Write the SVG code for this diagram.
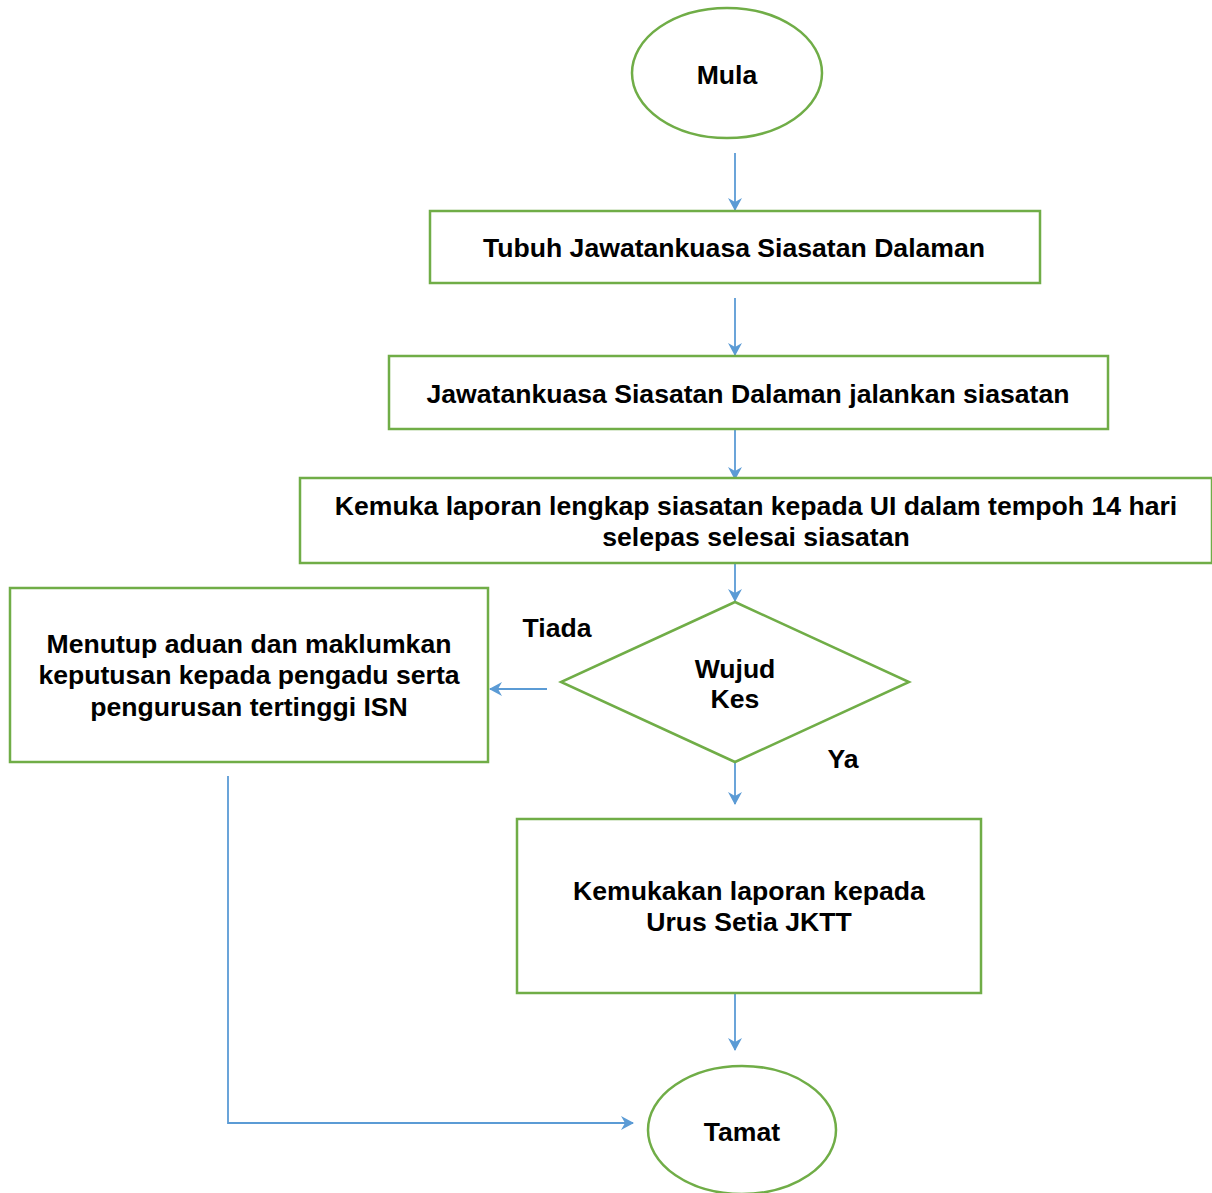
<svg xmlns="http://www.w3.org/2000/svg" width="1212" height="1193" viewBox="0 0 1212 1193">
<defs>
<marker id="ah" markerWidth="13" markerHeight="14" refX="12" refY="7" orient="auto" markerUnits="userSpaceOnUse" viewBox="0 0 13 14">
<path d="M0,0 L13,7 L0,14 L4,7 Z" fill="#5B9BD5"/>
</marker>
<style>
.n{fill:#fff;stroke:#70AD47;stroke-width:2.5}
.c{fill:none;stroke:#5B9BD5;stroke-width:1.8}
.a{marker-end:url(#ah)}
text{font-family:"Liberation Sans",Arial,sans-serif;font-weight:bold;font-size:26.6px;fill:#000;text-anchor:middle}
</style>
</defs>
<rect width="1212" height="1193" fill="#fff"/>
<g id="connectors">
<line class="c a" x1="735" y1="153" x2="735" y2="210"/>
<line class="c a" x1="735" y1="298" x2="735" y2="355"/>
<line class="c a" x1="735" y1="429" x2="735" y2="479"/>
<line class="c a" x1="735" y1="563" x2="735" y2="601"/>
<line class="c a" x1="547" y1="689" x2="490" y2="689"/>
<line class="c a" x1="735" y1="762" x2="735" y2="804"/>
<line class="c a" x1="735" y1="993" x2="735" y2="1050"/>
<polyline class="c a" points="228,776 228,1123 633,1123"/>
</g>
<g id="mula">
<ellipse class="n" cx="727" cy="73" rx="95" ry="65"/>
<text x="727" y="84">Mula</text>
</g>
<g id="tubuh">
<rect class="n" x="430" y="211" width="610" height="72"/>
<text x="734" y="257">Tubuh Jawatankuasa Siasatan Dalaman</text>
</g>
<g id="jalankan">
<rect class="n" x="389" y="356" width="719" height="73"/>
<text x="748" y="403">Jawatankuasa Siasatan Dalaman jalankan siasatan</text>
</g>
<g id="laporan">
<rect class="n" x="300" y="478" width="912" height="85"/>
<text x="756" y="515">Kemuka laporan lengkap siasatan kepada UI dalam tempoh 14 hari</text>
<text x="756" y="546">selepas selesai siasatan</text>
</g>
<g id="wujud">
<polygon class="n" points="735,602 909,682 735,762 561,682"/>
<text x="735" y="678">Wujud</text>
<text x="735" y="708">Kes</text>
</g>
<text x="557" y="637">Tiada</text>
<text x="843" y="768">Ya</text>
<g id="menutup">
<rect class="n" x="10" y="588" width="478" height="174"/>
<text x="249" y="653">Menutup aduan dan maklumkan</text>
<text x="249" y="684">keputusan kepada pengadu serta</text>
<text x="249" y="716">pengurusan tertinggi ISN</text>
</g>
<g id="kemukakan">
<rect class="n" x="517" y="819" width="464" height="174"/>
<text x="749" y="900">Kemukakan laporan kepada</text>
<text x="749" y="931">Urus Setia JKTT</text>
</g>
<g id="tamat">
<ellipse class="n" cx="742" cy="1130" rx="94" ry="64"/>
<text x="742" y="1141">Tamat</text>
</g>
</svg>
